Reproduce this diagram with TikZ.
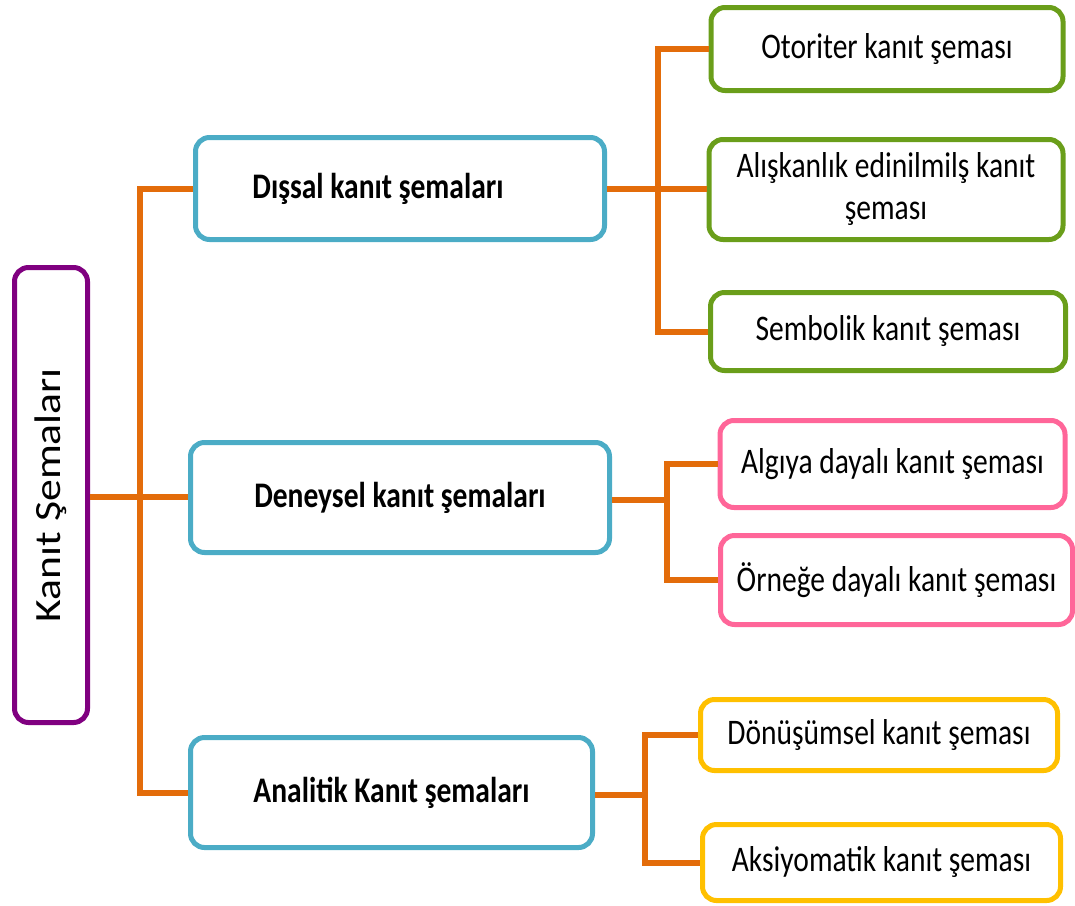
\documentclass[tikz,border=0pt]{standalone}
\usepackage{fontspec}
\setmainfont{Carlito}[FakeStretch=0.82]
\newfontfamily\rootfont{Carlito}[FakeStretch=1.18]
\usepackage{tikz}
\usetikzlibrary{positioning, calc}

\definecolor{linkorange}{HTML}{E36C0A}
\definecolor{midblue}{HTML}{4BACC6}
\definecolor{leafgreen}{HTML}{6A9E1A}
\definecolor{leafpink}{HTML}{FF6699}
\definecolor{leafyellow}{HTML}{FFC000}
\definecolor{rootpurple}{HTML}{800080}

\begin{document}
\begin{tikzpicture}[x=1pt, y=-1pt,
    block/.style={draw, line width=5pt, rounded corners=14pt, align=center, inner sep=0pt,
        font=\fontsize{36}{42}\selectfont},
    midblock/.style={block, draw=midblue, font=\fontsize{36}{42}\selectfont\bfseries},
    link/.style={draw=linkorange, line width=6pt}
]
    \useasboundingbox (0,0) rectangle (1075,905);

    % Root
    \node[block, draw=rootpurple, minimum width=73pt, minimum height=455pt] (root) at (51,495) {};
    \node[rotate=90, font=\rootfont\fontsize{37}{40}\selectfont] (roottext) at (root.center) {Kanıt Şemaları};

    % Main groups
    \node[midblock, minimum width=409pt, minimum height=102pt] (dis) at (400,188.5) {\hspace*{-44pt}Dışsal kanıt şemaları};
    \node[midblock, minimum width=419pt, minimum height=110pt] (den) at (400,497.5) {Deneysel kanıt şemaları};
    \node[midblock, minimum width=402pt, minimum height=110pt] (ana) at (391.5,792.5) {Analitik Kanıt şemaları};

    % External schemes
    \node[block, draw=leafgreen, minimum width=352pt, minimum height=83pt] (oto) at (887,49) {Otoriter kanıt şeması};
    \node[block, draw=leafgreen, minimum width=354pt, minimum height=100pt] (alis) at (886,189.5) {Alışkanlık edinilmilş kanıt\\şeması};
    \node[block, draw=leafgreen, minimum width=355pt, minimum height=78pt] (sem) at (888,331.5) {Sembolik kanıt şeması};

    % Empirical schemes
    \node[block, draw=leafpink, minimum width=345pt, minimum height=87pt] (alg) at (892.5,464) {Algıya dayalı kanıt şeması};
    \node[block, draw=leafpink, minimum width=352pt, minimum height=89pt] (orn) at (896.5,580) {Örneğe dayalı kanıt şeması};

    % Analytic schemes
    \node[block, draw=leafyellow, minimum width=357pt, minimum height=71pt] (don) at (879,735) {Dönüşümsel kanıt şeması};
    \node[block, draw=leafyellow, minimum width=358pt, minimum height=76pt] (aks) at (881.5,862.5) {Aksiyomatik kanıt şeması};

    % Junctions
    \coordinate (trunk) at (140,497);
    \coordinate (jdis) at (658,189);
    \coordinate (jden) at (667,500);
    \coordinate (jana) at (645,795);

    % Connections
    \draw[link] (trunk -| root.east) -- (trunk) -- (trunk -| den.west);
    \draw[link] (dis.west) -| (trunk) |- (ana.west);

    \draw[link] (jdis -| dis.east) -- (jdis) -- (jdis -| alis.west);
    \draw[link] (oto.west) -| (jdis) |- (sem.west);

    \draw[link] (jden -| den.east) -- (jden);
    \draw[link] (alg.west) -| (jden) |- (orn.west);

    \draw[link] (jana -| ana.east) -- (jana);
    \draw[link] (don.west) -| (jana) |- (aks.west);
\end{tikzpicture}
\end{document}
